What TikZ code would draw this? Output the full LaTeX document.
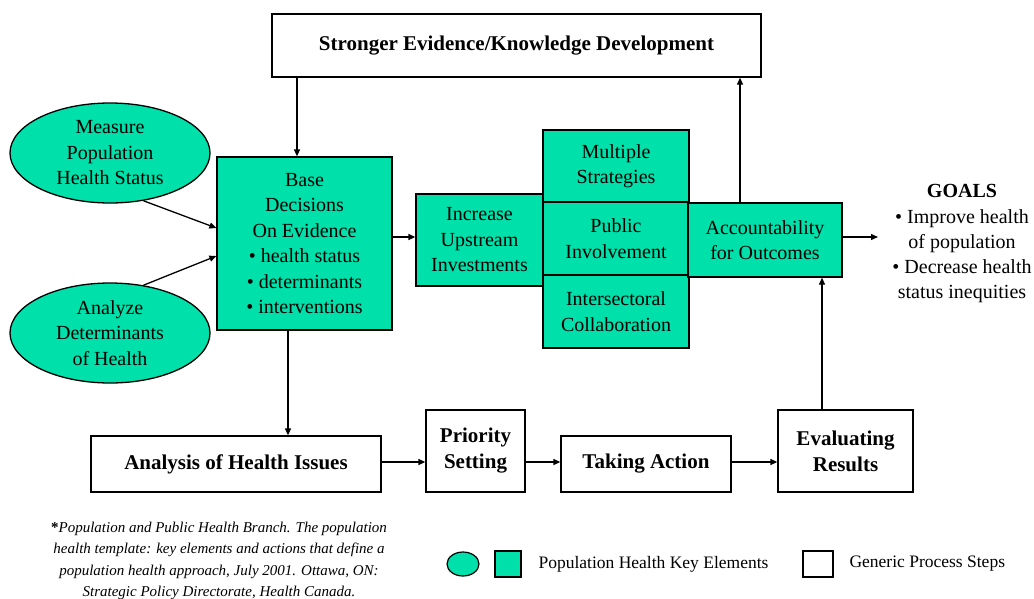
\documentclass[tikz,border=0pt]{standalone}
\usepackage{fontspec}
\setmainfont{Liberation Serif}
\usetikzlibrary{shapes.geometric,arrows.meta,calc}
\definecolor{kg}{HTML}{00E0AA}
\tikzset{
  keybox/.style={draw=black, line width=1.3pt, fill=kg, inner sep=0pt, align=center, font=\fontsize{20}{25.5}\selectfont},
  keyell/.style={ellipse, draw=black, line width=1.3pt, fill=kg, inner sep=0pt, align=center, font=\fontsize{20}{25.5}\selectfont},
  procbox/.style={draw=black, line width=1.3pt, fill=white, inner sep=0pt, align=center, font=\bfseries\fontsize{21}{26}\selectfont},
  arr/.style={line width=1.3pt, -{Triangle[length=7pt,width=6pt]}},
  plain/.style={font=\fontsize{20}{25.3}\selectfont, align=center}
}
\begin{document}
\begin{tikzpicture}[x=1pt,y=-1pt]
\useasboundingbox (0,0) rectangle (1034,598);
% top box
\node[procbox, minimum width=489pt, minimum height=63pt] (top) at (516.5,45.5) {Stronger Evidence/Knowledge Development};
% ellipses
\node[keyell, minimum width=200pt, minimum height=100pt] (m1) at (110,153) {Measure\\Population\\Health Status};
\node[keyell, minimum width=200pt, minimum height=100pt] (m2) at (110,333) {Analyze\\Determinants\\of Health};
% base
\node[keybox, minimum width=175pt, minimum height=173pt] (base) at (304.5,243.5) {Base\\Decisions\\On Evidence\\{\textbullet} health status\\{\textbullet} determinants\\{\textbullet} interventions};
% increase
\node[keybox, minimum width=127pt, minimum height=92pt] (inc) at (479.5,240) {Increase\\Upstream\\Investments};
\node[keybox, minimum width=146pt, minimum height=72pt] (mul) at (616,166) {Multiple\\Strategies};
\node[keybox, minimum width=146pt, minimum height=73pt] (pub) at (616,238.5) {Public\\Involvement};
\node[keybox, minimum width=146pt, minimum height=73pt] (int) at (616,311.5) {Intersectoral\\Collaboration};
\node[keybox, minimum width=154pt, minimum height=74pt] (acc) at (765,240) {Accountability\\for Outcomes};
% goals
\node[plain, anchor=north] (goals) at (962,181) {\textbf{GOALS}\\{\textbullet} Improve health\\of population\\{\textbullet} Decrease health\\status inequities};
\coordinate (gin) at (878,237);
% bottom process
\node[procbox, minimum width=290pt, minimum height=56pt] (ana) at (236,464) {Analysis of Health Issues};
\node[procbox, minimum width=99pt, minimum height=82pt] (pri) at (475.5,451) {Priority\\Setting};
\node[procbox, minimum width=170pt, minimum height=56pt] (tak) at (646,464) {Taking Action};
\node[procbox, minimum width=135pt, minimum height=82pt] (eva) at (845.5,451) {Evaluating\\Results};
% arrows
\draw[arr] ([xshift=-7.5pt]base.north |- top.south) -- ([xshift=-7.5pt]base.north);
\draw[arr] (m1.-55) -- ([yshift=15.5pt]base.west);
\draw[arr] (m2.55) -- ([yshift=-12.5pt]base.west);
\draw[arr] ([yshift=6.5pt]base.east) -- ([yshift=6.5pt]base.east -| inc.west);
\draw[arr] ([xshift=-16.5pt]base.south) -- ([xshift=-16.5pt]base.south |- ana.north);
\draw[arr] ([xshift=-25pt]acc.north) -- ([xshift=-25pt]acc.north |- top.south);
\draw[arr] ([yshift=3pt]acc.east) -- (gin);
\draw[arr] ([xshift=-23.5pt]eva.north) -- ([xshift=-23.5pt]eva.north |- acc.south);
\draw[arr] ([yshift=2pt]ana.east) -- ([yshift=2pt]ana.east -| pri.west);
\draw[arr] ([yshift=2pt]ana.east -| pri.east) -- ([yshift=2pt]ana.east -| tak.west);
\draw[arr] ([yshift=2pt]tak.east) -- ([yshift=2pt]tak.east -| eva.west);
% footnote
\node[align=center, font=\itshape\fontsize{15}{21.3}\selectfont] (foot) at (219,561) {\textbf{\upshape *}Population and Public Health Branch. The population\\health template: key elements and actions that define a\\population health approach, July 2001. Ottawa, ON:\\Strategic Policy Directorate, Health Canada.};
% legend
\node[ellipse, draw=black, line width=1.2pt, fill=kg, minimum width=32pt, minimum height=24pt, inner sep=0pt] (le) at (463,564) {};
\node[draw=black, line width=1.2pt, fill=kg, minimum width=26pt, minimum height=26pt, inner sep=0pt] (ls) at (508,564) {};
\node[anchor=west, font=\fontsize{17.5}{19}\selectfont] (lt1) at (535,564) {Population Health Key Elements};
\node[draw=black, line width=1.2pt, fill=white, minimum width=30pt, minimum height=26pt, inner sep=0pt] (lw) at (818,564) {};
\node[anchor=west, font=\fontsize{17.5}{19}\selectfont] (lt2) at (846,564) {Generic Process Steps};
\end{tikzpicture}
\end{document}
